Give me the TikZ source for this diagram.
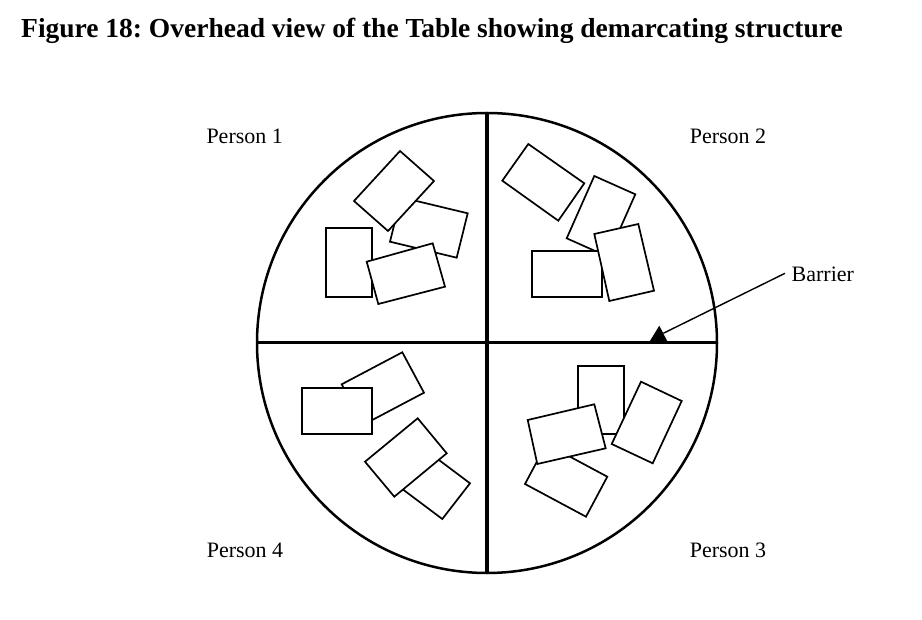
\documentclass[tikz,border=0pt]{standalone}
\usepackage{fontspec}
\setmainfont{Liberation Serif}
\frenchspacing
\begin{document}
\begin{tikzpicture}[x=1pt,y=-1pt,
  card/.style={draw=black,fill=white,line width=1.7pt,line join=miter},
  divider/.style={line width=3.2pt},
  rim/.style={line width=2.5pt},
  lbl/.style={font=\fontsize{22}{26}\selectfont,inner sep=0pt,anchor=base},
  pointer/.style={line width=1.4pt}]
\useasboundingbox (0,0) rectangle (922,620);
\fill[white] (0,0) rectangle (922,620);
% title
\node[anchor=base west,inner sep=0pt,font=\fontsize{27.5}{32}\selectfont\bfseries] (title) at (21,37.5)
  {Figure 18: Overhead view of the Table showing demarcating structure};
% table
\draw[rim] (487,343) circle[radius=230];
\draw[divider] (487,113) -- (487,573);
\draw[divider] (257,342.5) -- (717,342.5);
% quadrant 1
\filldraw[card] (467.7,213.3) -- (456.7,257.7) -- (390,241.7) -- (401,197.3) -- cycle;
\filldraw[card] (400,151) -- (434,181) -- (388,231) -- (354,201) -- cycle;
\filldraw[card] (326,228) -- (372,228) -- (372,297) -- (326,297) -- cycle;
\filldraw[card] (366.7,261.7) -- (432.7,243.3) -- (445,286.7) -- (378.3,304) -- cycle;
% quadrant 2
\filldraw[card] (528.3,144) -- (584.3,183.3) -- (558.3,220.7) -- (502.3,180.7) -- cycle;
\filldraw[card] (594.3,176) -- (635.3,194.3) -- (607.7,256.6) -- (566.7,238.3) -- cycle;
\filldraw[card] (531.7,250.7) -- (601.7,250.7) -- (601.7,296.7) -- (531.7,296.7) -- cycle;
\filldraw[card] (594.3,234) -- (638.3,224) -- (654,290.7) -- (609.3,301) -- cycle;
% quadrant 4
\filldraw[card] (341.7,384.3) -- (402.3,352.3) -- (424,392.7) -- (363.4,424.7) -- cycle;
\filldraw[card] (302.3,388.3) -- (372.3,388.3) -- (372.3,434.3) -- (302.3,434.3) -- cycle;
\filldraw[card] (415.6,442.5) -- (470,483.3) -- (442.3,519) -- (387.9,478.2) -- cycle;
\filldraw[card] (365,461.7) -- (417.7,418.3) -- (446.7,453.3) -- (394.3,496.7) -- cycle;
% quadrant 3
\filldraw[card] (577.7,365.7) -- (624.3,365.7) -- (624.3,434.3) -- (577.7,434.3) -- cycle;
\filldraw[card] (546.3,444) -- (607.3,476.7) -- (586,516.7) -- (525,484) -- cycle;
\filldraw[card] (527.7,420) -- (594.3,404.3) -- (605.7,448.3) -- (537.3,464) -- cycle;
\filldraw[card] (641,381.7) -- (681.7,401) -- (652.7,463.3) -- (611.7,444) -- cycle;
% labels
\node[lbl] (p1) at (244.7,144) {Person 1};
\node[lbl] (p2) at (728,144) {Person 2};
\node[lbl] (p4) at (245,557) {Person 4};
\node[lbl] (p3) at (728,557) {Person 3};
% barrier pointer
\node[font=\fontsize{22}{26}\selectfont,inner sep=0pt,anchor=base west] (barrier) at (791.5,282) {Barrier};
\coordinate (tip) at (663.3,333.3);
\coordinate (ptr) at (785,273.3);
\fill (649.3,342) -- (659.3,325.7) -- (667.7,342) -- cycle;
\draw[pointer] (ptr) -- (tip);
\end{tikzpicture}
\end{document}
